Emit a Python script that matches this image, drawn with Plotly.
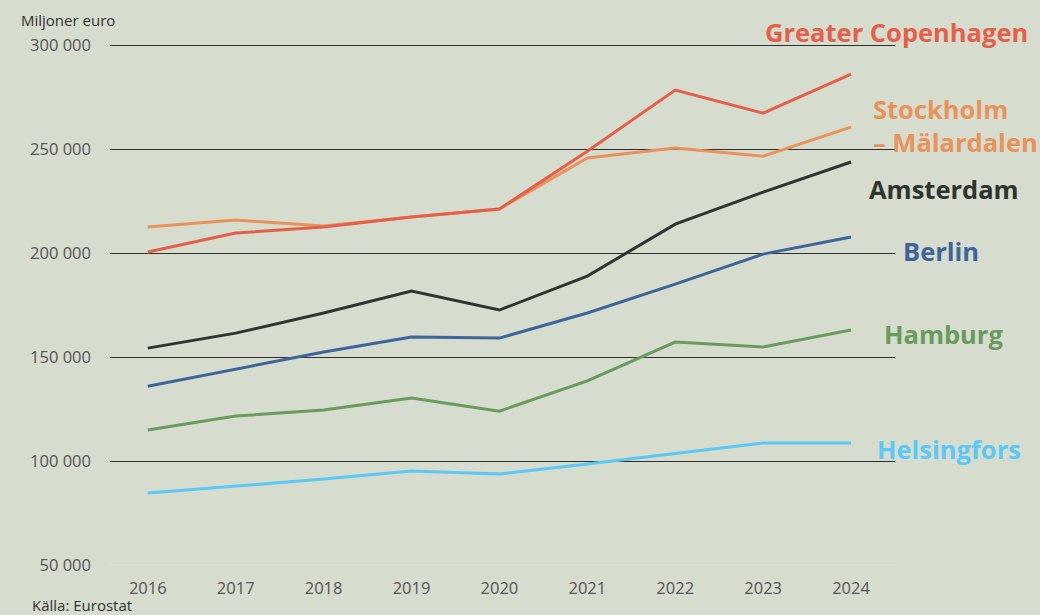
import plotly.graph_objects as go

years = [2016, 2017, 2018, 2019, 2020, 2021, 2022, 2023, 2024]
copenhagen = [200500, 209600, 212500, 217300, 221200, 249000, 278400, 267300, 286100]
stockholm = [212500, 215900, 213000, 217300, 221200, 245700, 250500, 246600, 260600]
amsterdam = [154300, 161500, 171200, 181700, 172600, 188900, 213900, 229300, 243800]
berlin = [136000, 144200, 152400, 159600, 159100, 171200, 185100, 199500, 207700]
hamburg = [114900, 121600, 124500, 130300, 124000, 138500, 157200, 154800, 163000]
helsinki = [84600, 88000, 91300, 95200, 93800, 98600, 103800, 108700, 108700]

y_ticks = [50000, 100000, 150000, 200000, 250000, 300000]
y_labels = ["50 000", "100 000", "150 000", "200 000", "250 000", "300 000"]

series = [
    ("Greater Copenhagen", copenhagen, "#E5604A"),
    ("Stockholm<br>– Mälardalen", stockholm, "#E8935C"),
    ("Amsterdam", amsterdam, "#2E352F"),
    ("Berlin", berlin, "#3F6499"),
    ("Hamburg", hamburg, "#6A9A5E"),
    ("Helsingfors", helsinki, "#5BC8F5"),
]

BG = "#D6DCCE"
FONT = "Open Sans"
fig = go.Figure()
for name, vals, col in reversed(series):
    fig.add_trace(go.Scatter(x=years, y=vals, mode="lines", name=name.replace("<br>", " "),
                             line=dict(color=col, width=3), showlegend=False,
                             hoverinfo="x+y"))

# paper coords: plot left = 110, width 785 ; plot bottom 565, top 42
TOP, BOT = 42, 565
def px(x):
    return (x - 110) / 785.0

def py(y):
    return (BOT - y) / float(BOT - TOP)

labels = [
    ("Greater Copenhagen", 896, 32, "#E5604A", "center"),
    ("Stockholm<br>– Mälardalen", 871, 125, "#E8935C", "left"),
    ("Amsterdam", 944, 189, "#2E352F", "center"),
    ("Berlin", 941, 251, "#3F6499", "center"),
    ("Hamburg", 943, 334, "#6A9A5E", "center"),
    ("Helsingfors", 949, 449, "#5BC8F5", "center"),
]
for text, x, y, col, anchor in labels:
    fig.add_annotation(x=px(x), y=py(y), xref="paper", yref="paper", text=text,
                       showarrow=False, xanchor=anchor, yanchor="middle", align="left",
                       font=dict(family=FONT, size=25.5, color=col, weight="bold"))

fig.add_annotation(x=px(19), y=py(20), xref="paper", yref="paper", text="Miljoner euro",
                   showarrow=False, xanchor="left", yanchor="middle",
                   font=dict(family=FONT, size=15, color="#333333"))
fig.add_annotation(x=px(30), y=py(605), xref="paper", yref="paper", text="Källa: Eurostat",
                   showarrow=False, xanchor="left", yanchor="middle",
                   font=dict(family=FONT, size=15, color="#333333"))

# faint baseline at 50 000
fig.add_hline(y=y_ticks[0], line=dict(color="#E2E6DC", width=1), layer="below")

fig.update_layout(
    width=1040, height=615,
    paper_bgcolor=BG, plot_bgcolor=BG,
    margin=dict(l=110, r=145, t=TOP, b=615 - BOT),
    font=dict(family=FONT, size=16.5, color="#555555"),
    xaxis=dict(range=[2015.57, 2024.5], tickvals=years, ticktext=[str(y) for y in years],
               showgrid=False, zeroline=False, showline=False, ticklabelstandoff=11,
               tickfont=dict(size=16.5, color="#555555")),
    yaxis=dict(range=[50000, 301500], tickvals=y_ticks, ticktext=y_labels,
               showgrid=True, gridcolor="#2E2E2E", gridwidth=1, zeroline=False,
               showline=False, ticklabelstandoff=18,
               tickfont=dict(size=16.5, color="#555555")),
)

fig.write_html("out.html", config={"displayModeBar": False},
               post_script="document.body.style.margin='0';")
